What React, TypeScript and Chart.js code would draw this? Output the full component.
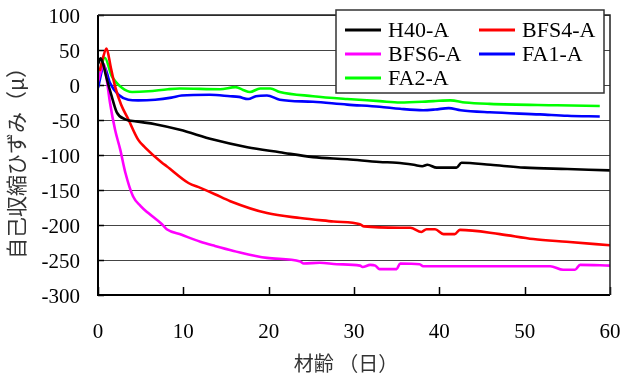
import React, { useEffect, useRef } from "react";
import { Chart, registerables } from "chart.js";

Chart.register(...registerables);

// ---- data ----
const SERIES_LABELS = ["H40-A", "BFS4-A", "BFS6-A", "FA1-A", "FA2-A"];
const SERIES_COLORS = ["#000000", "#ff0000", "#ff00ff", "#0000ff", "#00ff00"];

const X_TICKS = [0, 10, 20, 30, 40, 50, 60];
const Y_TICKS = [-300, -250, -200, -150, -100, -50, 0, 50, 100];

const H40_DAYS = [0, 0.3, 0.6, 1.0, 1.6, 2.2, 3.2, 4.5, 6.7, 9.6, 13.5, 17.5, 21.3, 25.2, 29.2, 33, 35, 37, 38, 38.6, 39.7, 42, 42.6, 46, 50, 55, 60];
const H40_VALS = [30, 38, 30, 10, -16, -39, -49, -52, -56, -64, -78, -89, -96, -103, -106, -110, -111, -114, -116, -114, -118, -118, -111, -114, -118, -120, -122];

const BFS4_DAYS = [0.2, 0.5, 1.0, 1.5, 2.0, 2.7, 3.55, 4.7, 5.5, 7.5, 8.05, 10.6, 12, 13.7, 15.5, 19.8, 23.7, 27.6, 30.7, 31.2, 35.4, 36.6, 37.9, 38.5, 39.5, 40.5, 41.8, 42.4, 47.1, 51, 54.9, 60];
const BFS4_VALS = [20, 35, 52, 25, -2, -28, -49, -78, -89, -111, -116, -140, -147, -156, -166, -183, -190, -195, -199, -202, -204, -204, -210, -206, -206, -213, -213, -207, -213, -220, -224, -229];

const BFS6_DAYS = [0, 0.4, 0.7, 1.0, 1.4, 2.0, 2.6, 3.2, 4.1, 5.0, 5.9, 7.5, 8.05, 9.8, 12, 13.7, 15.9, 19.8, 23.7, 24.1, 26, 28, 30.7, 31.0, 31.9, 32.5, 33, 35, 35.4, 37.7, 38.1, 43.2, 50, 53, 54.5, 55.9, 56.5, 60];
const BFS6_VALS = [5, 22, 30, 10, -25, -64, -92, -125, -159, -173, -183, -199, -206, -214, -224, -230, -237, -247, -252, -255, -254, -256, -258, -260, -257, -258, -263, -263, -255, -256, -259, -259, -259, -259, -264, -264, -257, -258];

const FA1_DAYS = [0, 0.7, 1.4, 2.4, 3.55, 4.7, 6.7, 8.6, 9.8, 13.1, 15.5, 16.5, 17.6, 18.5, 19.8, 21.3, 25.2, 29.2, 33, 35.4, 38.1, 39.5, 41.1, 42.5, 45.9, 51.8, 55, 58.8];
const FA1_VALS = [-4, 27, 3, -14, -21, -22, -21, -18, -15, -14, -16, -17, -20, -16, -15, -21, -24, -28, -31, -34, -36, -35, -33, -36, -39, -42, -44, -45];

const FA2_DAYS = [0, 0.8, 1.6, 2.8, 4.0, 5.9, 8.2, 9.6, 14.3, 16.1, 17.0, 17.8, 19, 20.2, 21.3, 25.2, 29.2, 33, 35.4, 39.3, 41.3, 43, 45.9, 53.8, 58.8];
const FA2_VALS = [5, 39, 13, -4, -10, -9, -6, -5, -6, -3, -7, -10, -5, -5, -10, -16, -20, -23, -25, -23, -22, -25, -27, -29, -30];

const ALL_DAYS = [H40_DAYS, BFS4_DAYS, BFS6_DAYS, FA1_DAYS, FA2_DAYS];
const ALL_VALS = [H40_VALS, BFS4_VALS, BFS6_VALS, FA1_VALS, FA2_VALS];

const X_TITLE = "材齢 （日）";
const Y_TITLE = "自己収縮ひずみ（μ）";

const SERIF = "'Liberation Serif'";
const JP = "'Noto Sans CJK JP'";

Chart.defaults.font.family = SERIF;

const framePlugin = {
  id: "frame",
  beforeDatasetsDraw(chart: any) {
    const { ctx, chartArea } = chart;
    const { left, bottom } = chartArea;
    const xs = chart.scales.x;
    const ys = chart.scales.y;
    ctx.save();
    ctx.strokeStyle = "#000";
    ctx.lineWidth = 1.5;
    ctx.beginPath();
    X_TICKS.forEach((t) => {
      const px = Math.round(xs.getPixelForValue(t)) + 0.5;
      ctx.moveTo(px, bottom);
      ctx.lineTo(px, bottom - 8);
    });
    Y_TICKS.forEach((t) => {
      const py = Math.round(ys.getPixelForValue(t)) + 0.5;
      ctx.moveTo(left, py);
      ctx.lineTo(left + 6, py);
    });
    ctx.stroke();
    ctx.restore();
  },
  afterDatasetsDraw(chart: any) {
    const { ctx, chartArea } = chart;
    const { left, right, top, bottom } = chartArea;
    ctx.save();
    ctx.strokeStyle = "#000";
    ctx.lineWidth = 2;
    ctx.beginPath();
    ctx.moveTo(left, top);
    ctx.lineTo(left, bottom);
    ctx.lineTo(right, bottom);
    ctx.stroke();
    ctx.lineWidth = 1.5;
    ctx.strokeStyle = "#222";
    ctx.beginPath();
    ctx.moveTo(left, top);
    ctx.lineTo(right, top);
    ctx.lineTo(right, bottom);
    ctx.stroke();
    ctx.restore();
  },
  afterDraw(chart: any) {
    const { ctx } = chart;
    ctx.save();
    // axis titles
    ctx.fillStyle = "#333";
    ctx.font = "20px " + JP;
    ctx.textAlign = "center";
    ctx.textBaseline = "middle";
    ctx.fillText(X_TITLE, 346, 363);
    ctx.save();
    ctx.translate(16, 158);
    ctx.rotate(-Math.PI / 2);
    ctx.font = "21px " + JP;
    ctx.fillText(Y_TITLE, 0, 0);
    ctx.restore();
    // legend
    const bx = 336, by = 10, bw = 268, bh = 83;
    ctx.fillStyle = "#fff";
    ctx.fillRect(bx, by, bw, bh);
    ctx.strokeStyle = "#333";
    ctx.lineWidth = 1.5;
    ctx.strokeRect(bx, by, bw, bh);
    ctx.font = "22px " + SERIF;
    ctx.textBaseline = "middle";
    ctx.textAlign = "left";
    const cols = [345, 479];
    const rows = [30, 54, 78];
    chart.data.datasets.forEach((ds: any, i: number) => {
      const cx = cols[i % 2];
      const cy = rows[Math.floor(i / 2)];
      ctx.strokeStyle = ds.borderColor;
      ctx.lineWidth = 3;
      ctx.beginPath();
      ctx.moveTo(cx, cy);
      ctx.lineTo(cx + 36, cy);
      ctx.stroke();
      ctx.fillStyle = "#000";
      ctx.fillText(ds.label, cx + 43, cy + 1);
    });
    ctx.restore();
  },
};

export default function App() {
  const ref = useRef<HTMLCanvasElement | null>(null);
  useEffect(() => {
    document.body.style.margin = "0";
    const canvas = ref.current;
    if (!canvas) return;
    const datasets = SERIES_LABELS.map((label, i) => ({
      label,
      data: ALL_DAYS[i].map((d, j) => ({ x: d, y: ALL_VALS[i][j] })),
      borderColor: SERIES_COLORS[i],
      backgroundColor: SERIES_COLORS[i],
      borderWidth: 2.6,
      pointRadius: 0,
      cubicInterpolationMode: "monotone" as const,
      fill: false,
    }));
    const chart = new Chart(canvas, {
      type: "line",
      data: { datasets },
      plugins: [framePlugin],
      options: {
        animation: false,
        responsive: false,
        devicePixelRatio: 1,
        layout: { padding: { top: 15, right: 12, left: 0, bottom: 0 } },
        plugins: {
          legend: { display: false },
          tooltip: { enabled: false },
        },
        scales: {
          x: {
            type: "linear",
            min: 0,
            max: 60,
            afterFit: (s: any) => {
              s.height = 86;
              s.paddingLeft = 0;
              s.paddingRight = 0;
            },
            afterBuildTicks: (s: any) => {
              s.ticks = X_TICKS.map((v) => ({ value: v }));
            },
            grid: { display: false, drawTicks: false },
            border: { display: false },
            ticks: {
              color: "#000",
              padding: 25,
              maxRotation: 0,
              font: { family: SERIF, size: 21, style: "normal", weight: "normal" },
            },
          },
          y: {
            type: "linear",
            min: -300,
            max: 100,
            afterFit: (s: any) => {
              s.width = 98;
              s.paddingTop = 0;
              s.paddingBottom = 0;
            },
            afterBuildTicks: (s: any) => {
              s.ticks = Y_TICKS.map((v) => ({ value: v }));
            },
            grid: { color: "#444", lineWidth: 1, drawTicks: false },
            border: { display: false },
            ticks: {
              color: "#000",
              padding: 18,
              labelOffset: 2,
              font: { family: SERIF, size: 21, style: "normal", weight: "normal" },
            },
          },
        },
      },
    });
    return () => chart.destroy();
  }, []);
  return (
    <div style={{ width: 622, height: 381 }}>
      <canvas ref={ref} width={622} height={381} style={{ display: "block" }} />
    </div>
  );
}
